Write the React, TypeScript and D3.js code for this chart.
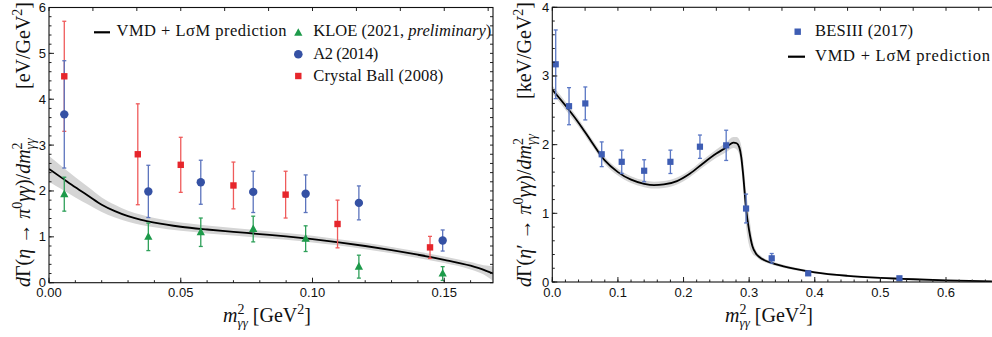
import React from 'react';
import * as d3 from 'd3';

const W = 992;
const H = 337;

// ---------------- Left panel: eta -> pi0 gamma gamma ----------------
const kloeX = [0.0058, 0.0377, 0.0576, 0.0775, 0.0974, 0.1176, 0.1494];
const kloeY = [1.93, 1.0, 1.1, 1.17, 0.96, 0.35, 0.2];
const kloeErr = [0.37, 0.3, 0.31, 0.28, 0.28, 0.25, 0.15];

const a2X = [0.0058, 0.0377, 0.0576, 0.0775, 0.0974, 0.1176, 0.1494];
const a2Y = [3.67, 1.99, 2.19, 1.98, 1.94, 1.74, 0.92];
const a2Err = [1.17, 0.57, 0.48, 0.45, 0.41, 0.37, 0.23];

const cbX = [0.0058, 0.0337, 0.05, 0.07, 0.0898, 0.1095, 0.1446];
const cbY = [4.5, 2.8, 2.57, 2.12, 1.92, 1.28, 0.77];
const cbErr = [1.2, 1.1, 0.6, 0.51, 0.51, 0.52, 0.24];

const etaCurveX = [0, 0.005, 0.01, 0.015, 0.02, 0.025, 0.03, 0.035, 0.04, 0.05, 0.06, 0.07, 0.08, 0.09, 0.1, 0.11, 0.12, 0.13, 0.14, 0.15, 0.16, 0.165, 0.1685];
const etaCurveY = [2.48, 2.28, 2.08, 1.89, 1.7, 1.56, 1.45, 1.37, 1.31, 1.22, 1.16, 1.11, 1.06, 1.01, 0.95, 0.88, 0.8, 0.71, 0.61, 0.5, 0.37, 0.28, 0.2];
const etaBandHalf = [0.28, 0.25, 0.22, 0.19, 0.16, 0.14, 0.12, 0.11, 0.1, 0.09, 0.085, 0.08, 0.08, 0.075, 0.075, 0.07, 0.07, 0.07, 0.07, 0.07, 0.08, 0.1, 0.16];

const etaXTicks = [0, 0.05, 0.1, 0.15];
const etaYTicks = [0, 1, 2, 3, 4, 5, 6];

// ---------------- Right panel: eta' -> pi0 gamma gamma ----------------
const besX = [0.0052, 0.0255, 0.0503, 0.0753, 0.1058, 0.14, 0.18, 0.225, 0.265, 0.2953, 0.3344, 0.39, 0.529];
const besY = [3.17, 2.56, 2.6, 1.86, 1.75, 1.62, 1.75, 1.97, 1.99, 1.07, 0.345, 0.126, 0.054];
const besErr = [0.5, 0.27, 0.24, 0.18, 0.17, 0.16, 0.17, 0.17, 0.22, 0.21, 0.07, 0.025, 0.015];

const etapCurveX = [0, 0.02, 0.04, 0.06, 0.08, 0.1, 0.12, 0.14, 0.155, 0.17, 0.19, 0.21, 0.23, 0.25, 0.265, 0.276, 0.281, 0.285, 0.288, 0.291, 0.2953, 0.3, 0.305, 0.31, 0.316, 0.325, 0.34, 0.37, 0.4, 0.45, 0.5, 0.55, 0.6, 0.67];
const etapCurveY = [2.8, 2.57, 2.32, 2.04, 1.77, 1.6, 1.49, 1.43, 1.41, 1.42, 1.47, 1.58, 1.73, 1.87, 1.96, 2.03, 2.02, 1.96, 1.82, 1.55, 1.07, 0.75, 0.52, 0.42, 0.36, 0.31, 0.26, 0.19, 0.14, 0.09, 0.06, 0.04, 0.025, 0.01];
const etapBandHalf = [0.06, 0.06, 0.055, 0.05, 0.05, 0.05, 0.05, 0.05, 0.05, 0.05, 0.05, 0.05, 0.055, 0.06, 0.07, 0.08, 0.09, 0.11, 0.16, 0.22, 0.26, 0.22, 0.11, 0.05, 0.035, 0.025, 0.025, 0.02, 0.018, 0.015, 0.012, 0.01, 0.008, 0.006];

const etapXTicks = [0, 0.1, 0.2, 0.3, 0.4, 0.5, 0.6];
const etapYTicks = [0, 1, 2, 3, 4];

// ---------------- styling ----------------
const serif = "'Liberation Serif', 'Times New Roman', 'DejaVu Serif', serif";
const sans = "'Liberation Sans', Arial, 'DejaVu Sans', sans-serif";
const BAND = '#d5d5d5';
const RED = '#e6262c';
const RED_BAR = '#ef5b5b';
const BLUE = '#3551a4';
const BLUE_BAR = '#5c74bd';
const GREEN = '#1d9a4a';
const GREEN_BAR = '#2fa05a';
const BES = '#3e5db3';
const BES_BAR = '#5a77c4';

// Left scales
const lx = d3.scaleLinear().domain([0, 0.1685]).range([49, 493]);
const ly = d3.scaleLinear().domain([0, 6]).range([282.7, 7.5]);
// Right scales
const rx = d3.scaleLinear().domain([0, 0.6]).range([552.3, 946]);
const ry = d3.scaleLinear().domain([0, 4]).range([282, 7.3]);

function range(a: number, b: number, step: number) {
  const n = Math.round((b - a) / step);
  const out: number[] = [];
  for (let i = 0; i <= n; i++) out.push(a + i * step);
  return out;
}

function ErrBars({ xs, ys, es, sx, sy, color, width = 1.3 }: any) {
  return (
    <g stroke={color} strokeWidth={width}>
      {xs.map((x: number, i: number) => {
        const cx = sx(x);
        const t = sy(ys[i] + es[i]);
        const b = sy(ys[i] - es[i]);
        return (
          <g key={i}>
            <line x1={cx} x2={cx} y1={t} y2={b} />
            <line x1={cx - 2} x2={cx + 2} y1={t} y2={t} />
            <line x1={cx - 2} x2={cx + 2} y1={b} y2={b} />
          </g>
        );
      })}
    </g>
  );
}

function tri(cx: number, cy: number, s: number) {
  return `M${cx},${cy - s * 0.62} L${cx + s * 0.55},${cy + s * 0.4} L${cx - s * 0.55},${cy + s * 0.4} Z`;
}

function Axes({ sx, sy, x0, x1, y0, y1, xMajor, xMinor, xTop, yMajor, yMinor, yRight, fmtX, showRight }: any) {
  const ticks: any[] = [];
  xMinor.forEach((v: number, i: number) => {
    ticks.push(<line key={'xm' + i} x1={sx(v)} x2={sx(v)} y1={y0} y2={y0 - 2.5} />);
  });
  xMajor.forEach((v: number, i: number) => {
    ticks.push(<line key={'xM' + i} x1={sx(v)} x2={sx(v)} y1={y0} y2={y0 - 5} />);
  });
  xTop.forEach((v: number, i: number) => {
    ticks.push(<line key={'xt' + i} x1={sx(v)} x2={sx(v)} y1={y1} y2={y1 + 3.5} />);
  });
  yMinor.forEach((v: number, i: number) => {
    ticks.push(<line key={'ym' + i} x1={x0} x2={x0 + 2.5} y1={sy(v)} y2={sy(v)} />);
  });
  yMajor.forEach((v: number, i: number) => {
    ticks.push(<line key={'yM' + i} x1={x0} x2={x0 + 5} y1={sy(v)} y2={sy(v)} />);
  });
  if (showRight) {
    yRight.forEach((v: number, i: number) => {
      ticks.push(<line key={'yr' + i} x1={x1} x2={x1 - 3} y1={sy(v)} y2={sy(v)} />);
    });
  }
  return (
    <g>
      <g stroke="#222" strokeWidth={1}>{ticks}</g>
      <rect x={x0} y={y1} width={x1 - x0} height={y0 - y1} fill="none" stroke="#111" strokeWidth={1.1} />
      <g style={{ fontFamily: sans, fontSize: 13 }} fill="#111">
        {xMajor.map((v: number, i: number) => (
          <text key={'xl' + i} x={sx(v)} y={297} textAnchor="middle">{fmtX(v)}</text>
        ))}
        {yMajor.map((v: number, i: number) => (
          <text key={'yl' + i} x={x0 - 3} y={sy(v) + 4.5} textAnchor="end">{v}</text>
        ))}
      </g>
    </g>
  );
}

function YLabel({ x, prime, unit, mainLen, unitLen }: { x: number; prime: boolean; unit: string; mainLen: number; unitLen: number }) {
  return (
    <g style={{ fontFamily: serif, fontSize: 20 }} fill="#111">
      <text transform={`translate(${x},287) rotate(-90)`} textAnchor="start">
        <tspan fontStyle="italic">d</tspan>
        <tspan>Γ(</tspan>
        <tspan fontStyle="italic">η</tspan>
        {prime ? <tspan>′</tspan> : null}
        <tspan> → </tspan>
        <tspan fontStyle="italic">π</tspan>
        <tspan dy={-8} style={{ fontSize: 14 }}>0</tspan>
        <tspan dy={8} fontStyle="italic">γγ</tspan>
        <tspan>)/</tspan>
        <tspan fontStyle="italic">dm</tspan>
        <tspan dy={-8} style={{ fontSize: 14 }}>2</tspan>
        <tspan dy={13} dx={-7} style={{ fontSize: 14 }} fontStyle="italic">γγ</tspan>
      </text>
      <text transform={`translate(${x},2) rotate(-90)`} textAnchor="end">
        <tspan>[{unit}/GeV</tspan>
        <tspan dy={-8} style={{ fontSize: 14 }}>2</tspan>
        <tspan dy={8}>]</tspan>
      </text>
    </g>
  );
}

function XLabel({ cx }: { cx: number }) {
  return (
    <text x={cx} y={322} textAnchor="middle" style={{ fontFamily: serif, fontSize: 20 }} fill="#111">
      <tspan fontStyle="italic">m</tspan>
      <tspan dy={-8} style={{ fontSize: 14 }}>2</tspan>
      <tspan dy={13} dx={-7} style={{ fontSize: 13 }} fontStyle="italic">γγ</tspan>
      <tspan dy={-5}> [GeV</tspan>
      <tspan dy={-8} style={{ fontSize: 14 }}>2</tspan>
      <tspan dy={8}>]</tspan>
    </text>
  );
}

export default function App() {
  const etaPts = etaCurveX.map((x, i) => ({ x, y: etaCurveY[i], h: etaBandHalf[i] }));
  const etapPts = etapCurveX.map((x, i) => ({ x, y: etapCurveY[i], h: etapBandHalf[i] }));

  const lLine = d3.line<any>().x((d) => lx(d.x)).y((d) => ly(d.y)).curve(d3.curveMonotoneX);
  const lArea = d3.area<any>().x((d) => lx(d.x)).y0((d) => ly(Math.max(0, d.y - d.h))).y1((d) => ly(d.y + d.h)).curve(d3.curveMonotoneX);
  const rLine = d3.line<any>().x((d) => rx(d.x)).y((d) => ry(d.y)).curve(d3.curveMonotoneX);
  const rArea = d3.area<any>().x((d) => rx(d.x)).y0((d) => ry(Math.max(0, d.y - d.h))).y1((d) => ry(d.y + d.h)).curve(d3.curveMonotoneX);

  const fmt2 = d3.format('.2f');
  const fmt1 = d3.format('.1f');
  const legendStyle = { fontFamily: serif, fontSize: 16.5 };

  return (
    <svg width={W} height={H} viewBox={`0 0 ${W} ${H}`} style={{ position: 'absolute', left: 0, top: 0, background: '#fff' }}>
      <defs>
        <clipPath id="clipL"><rect x={49} y={7.5} width={444} height={275.2} /></clipPath>
        <clipPath id="clipR"><rect x={552.3} y={7.3} width={440} height={274.7} /></clipPath>
      </defs>

      {/* ---------- Left panel ---------- */}
      <g clipPath="url(#clipL)">
        <path d={lArea(etaPts) || ''} fill={BAND} />
        <path d={lLine(etaPts) || ''} fill="none" stroke="#000" strokeWidth={1.8} />
      </g>
      <ErrBars xs={cbX} ys={cbY} es={cbErr} sx={lx} sy={ly} color={RED_BAR} />
      <ErrBars xs={a2X} ys={a2Y} es={a2Err} sx={lx} sy={ly} color={BLUE_BAR} />
      <ErrBars xs={kloeX} ys={kloeY} es={kloeErr} sx={lx} sy={ly} color={GREEN_BAR} />
      {cbX.map((x, i) => (
        <rect key={'cb' + i} x={lx(x) - 3.2} y={ly(cbY[i]) - 3.2} width={6.4} height={6.4} fill={RED} />
      ))}
      {a2X.map((x, i) => (
        <circle key={'a2' + i} cx={lx(x)} cy={ly(a2Y[i])} r={4.2} fill={BLUE} />
      ))}
      {kloeX.map((x, i) => (
        <path key={'kl' + i} d={tri(lx(x), ly(kloeY[i]), 7.5)} fill={GREEN} />
      ))}
      <Axes
        sx={lx} sy={ly} x0={49} x1={493} y0={282.7} y1={7.5}
        xMajor={etaXTicks} xMinor={range(0, 0.16, 0.01)} xTop={range(0, 0.1667, 0.05 / 3)}
        yMajor={etaYTicks} yMinor={range(0, 6, 0.2)} yRight={range(0, 6, 0.2)}
        fmtX={fmt2} showRight={true}
      />
      {/* Left legend */}
      <g style={legendStyle} fill="#111">
        <line x1={94} x2={110} y1={32.3} y2={32.3} stroke="#000" strokeWidth={2.2} />
        <text x={116.5} y={36} textLength={170} lengthAdjust="spacing">VMD + LσM prediction</text>
        <path d={tri(298.3, 32.8, 7.5)} fill={GREEN} />
        <text x={313.3} y={36} textLength={178} lengthAdjust="spacing">KLOE (2021, <tspan fontStyle="italic">preliminary</tspan>)</text>
        <circle cx={298.3} cy={54.3} r={4.3} fill={BLUE} />
        <text x={313.3} y={59} textLength={65} lengthAdjust="spacing">A2 (2014)</text>
        <rect x={298.3 - 3.2} y={76 - 3.2} width={6.4} height={6.4} fill={RED} />
        <text x={313.3} y={81} textLength={130} lengthAdjust="spacing">Crystal Ball (2008)</text>
      </g>
      <YLabel x={30} prime={false} unit="eV" mainLen={0} unitLen={0} />
      <XLabel cx={267} />

      {/* ---------- Right panel ---------- */}
      <g clipPath="url(#clipR)">
        <path d={rArea(etapPts) || ''} fill={BAND} />
        <path d={rLine(etapPts) || ''} fill="none" stroke="#000" strokeWidth={1.8} />
      </g>
      <ErrBars xs={besX} ys={besY} es={besErr} sx={rx} sy={ry} color={BES_BAR} />
      {besX.map((x, i) => (
        <rect key={'bes' + i} x={rx(x) - 3.1} y={ry(besY[i]) - 3.1} width={6.2} height={6.2} fill={BES} />
      ))}
      <Axes
        sx={rx} sy={ry} x0={552.3} x1={996} y0={282} y1={7.3}
        xMajor={etapXTicks} xMinor={range(0, 0.66, 0.02)} xTop={range(0, 0.65, 0.05)}
        yMajor={etapYTicks} yMinor={range(0, 4, 0.2)} yRight={[]}
        fmtX={fmt1} showRight={false}
      />
      {/* Right legend */}
      <g style={legendStyle} fill="#111">
        <rect x={797.7 - 3.2} y={31.7 - 3.2} width={6.4} height={6.4} fill={BES} />
        <text x={815} y={36} textLength={98} lengthAdjust="spacing">BESIII (2017)</text>
        <line x1={788} x2={805} y1={56.7} y2={56.7} stroke="#000" strokeWidth={2.2} />
        <text x={815} y={60.5} textLength={175} lengthAdjust="spacing">VMD + LσM prediction</text>
      </g>
      <YLabel x={531} prime={true} unit="keV" mainLen={0} unitLen={0} />
      <XLabel cx={769} />
    </svg>
  );
}
